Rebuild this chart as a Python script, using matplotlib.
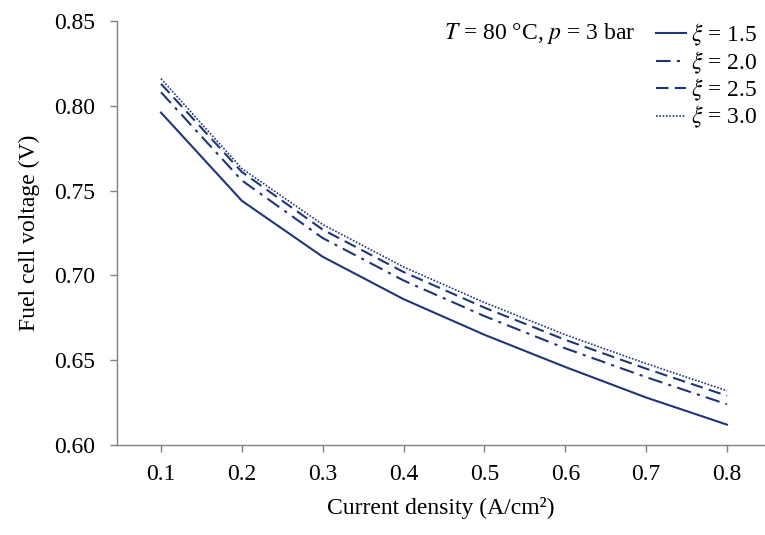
import numpy as np
import matplotlib
matplotlib.use("Agg")
import matplotlib.pyplot as plt

plt.rcParams['font.family'] = ['Liberation Serif', 'DejaVu Serif']
plt.rcParams['mathtext.fontset'] = 'stix'

# current density (A/cm2)
current = [0.1, 0.2, 0.3, 0.4, 0.5, 0.6, 0.7, 0.8]

# fuel cell voltage for each stoichiometry
v_15 = [0.796, 0.744, 0.711, 0.686, 0.665, 0.646, 0.628, 0.612]
v_20 = [0.808, 0.756, 0.722, 0.697, 0.676, 0.657, 0.640, 0.624]
v_25 = [0.813, 0.761, 0.727, 0.702, 0.681, 0.662, 0.645, 0.629]
v_30 = [0.816, 0.763, 0.730, 0.705, 0.684, 0.665, 0.648, 0.632]

labels = [r'$\xi$ = 1.5', r'$\xi$ = 2.0', r'$\xi$ = 2.5', r'$\xi$ = 3.0']
yticks = [0.60, 0.65, 0.70, 0.75, 0.80, 0.85]

col = '#1f3578'

fig = plt.figure(figsize=(7.65, 5.35), dpi=100)
ax = fig.add_axes([117/765, 1 - 445/535, 1 - 117/765, (445 - 21)/535])

ax.plot(current, v_15, color=col, lw=1.5, ls='-', label=labels[0])
ax.plot(current, v_20, color=col, lw=1.5, ls=(0, (7, 3, 1.5, 3)), label=labels[1])
ax.plot(current, v_25, color=col, lw=1.5, ls=(0, (6, 3)), label=labels[2])
ax.plot(current, v_30, color=col, lw=1.2, ls=(0, (1, 1)), label=labels[3])

ax.set_xlim(0.0456, 0.847)
ax.set_ylim(0.60, 0.85)
ax.set_xticks(current)
ax.set_xticklabels(['%.1f' % c for c in current])
ax.set_yticks(yticks)
ax.set_yticklabels(['%.2f' % t for t in yticks])

for s in ['top', 'right']:
    ax.spines[s].set_visible(False)
for s in ['left', 'bottom']:
    ax.spines[s].set_color('#808080')
    ax.spines[s].set_linewidth(1.0)
ax.tick_params(axis='both', colors='#808080', labelcolor='black', labelsize=17,
               length=5, width=1.0, direction='out')
ax.tick_params(axis='y', pad=11)
ax.tick_params(axis='x', pad=9)

ax.set_xlabel('Current density (A/cm²)', fontsize=17, labelpad=8)
ax.set_ylabel('Fuel cell voltage (V)', fontsize=17, labelpad=10)

leg = ax.legend(loc='upper right', bbox_to_anchor=(1.003, 1.02), frameon=False,
                fontsize=17, handlelength=1.3, handletextpad=0.2,
                labelspacing=0.05, borderaxespad=0.0)

ax.text(0.80, 0.97, r'$T$ = 80 °C, $p$ = 3 bar', transform=ax.transAxes,
        fontsize=17, ha='right', va='center')

fig.savefig('out.png', dpi=100)
